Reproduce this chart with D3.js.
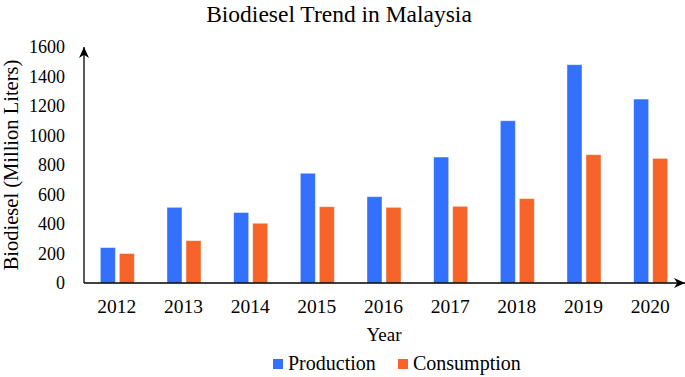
<!DOCTYPE html>
<html>
<head>
<style>
  body { margin: 0; background: #fff; }
  text { font-family: "Liberation Serif", "Times New Roman", serif; fill: #000; }
</style>
</head>
<body>
<svg id="svg" width="685" height="377"></svg>
<script src="https://d3js.org/d3.v7.min.js"></script>
<script>
// chart data
const years = ['2012', '2013', '2014', '2015', '2016', '2017', '2018', '2019', '2020']
const production = [240, 513, 478, 744, 585, 854, 1100, 1480, 1247]
const consumption = [200, 287, 405, 517, 513, 520, 572, 870, 845]
const yTicks = [0, 200, 400, 600, 800, 1000, 1200, 1400, 1600]
const seriesNames = ['Production', 'Consumption']
const colors = ['#3370fe', '#f6642a']

const svg = d3.select('#svg')

const x = d3.scaleBand().domain(years).range([84, 684])
const y = d3.scaleLinear().domain([0, 1600]).range([283, 47])

// arrow head
svg.append('defs').append('marker')
  .attr('id', 'arrow')
  .attr('viewBox', '0 0 10 10')
  .attr('refX', 10).attr('refY', 5)
  .attr('markerWidth', 11).attr('markerHeight', 10)
  .attr('markerUnits', 'userSpaceOnUse')
  .attr('orient', 'auto')
  .attr('preserveAspectRatio', 'none')
  .append('path')
  .attr('d', 'M0,0 L10,5 L0,10 L3,5 Z')
  .attr('fill', '#000')

// bars
const series = [production, consumption]
series.forEach((vals, s) => {
  svg.append('g')
    .selectAll('rect')
    .data(vals)
    .join('rect')
    .attr('x', (d, i) => x(years[i]) + x.bandwidth() / 2 + (s === 0 ? -17 : 2))
    .attr('y', d => y(d))
    .attr('width', 15)
    .attr('height', d => y(0) - y(d))
    .attr('fill', colors[s])
    .attr('stroke', '#ffffff')
    .attr('stroke-opacity', 0.5)
    .attr('stroke-width', 0.8)
})

// axes lines with arrows
svg.append('line')
  .attr('x1', 84).attr('y1', y(0))
  .attr('x2', 84).attr('y2', 47)
  .attr('stroke', '#000').attr('stroke-width', 1.3)
  .attr('marker-end', 'url(#arrow)')
svg.append('line')
  .attr('x1', 84).attr('y1', y(0))
  .attr('x2', 685).attr('y2', y(0))
  .attr('stroke', '#000').attr('stroke-width', 1.3)
  .attr('marker-end', 'url(#arrow)')

// y tick labels
svg.append('g')
  .selectAll('text')
  .data(yTicks)
  .join('text')
  .attr('x', 65)
  .attr('y', d => y(d))
  .attr('dy', '0.35em')
  .attr('text-anchor', 'end')
  .attr('font-size', 18)
  .text(d => d)

// x tick labels
svg.append('g')
  .selectAll('text')
  .data(years)
  .join('text')
  .attr('x', d => x(d) + x.bandwidth() / 2 - 0.5)
  .attr('y', 313)
  .attr('text-anchor', 'middle')
  .attr('font-size', 19.5)
  .text(d => d)

// title + axis titles
svg.append('text')
  .attr('x', 339).attr('y', 22)
  .attr('text-anchor', 'middle')
  .attr('font-size', 23.5)
  .text('Biodiesel Trend in Malaysia')

svg.append('text')
  .attr('x', 384).attr('y', 341)
  .attr('text-anchor', 'middle')
  .attr('font-size', 19)
  .text('Year')

svg.append('text')
  .attr('transform', 'translate(18,165) rotate(-90)')
  .attr('text-anchor', 'middle')
  .attr('font-size', 20.5)
  .text('Biodiesel (Million Liters)')

// legend
const legendX = [273, 398]
const legend = svg.append('g')
  .selectAll('g')
  .data(seriesNames)
  .join('g')
  .attr('transform', (d, i) => `translate(${legendX[i]}, 359)`)
legend.append('rect')
  .attr('width', 10).attr('height', 10)
  .attr('fill', (d, i) => colors[i])
legend.append('text')
  .attr('x', 15).attr('y', 11)
  .attr('font-size', 20)
  .text(d => d)
</script>
</body>
</html>
